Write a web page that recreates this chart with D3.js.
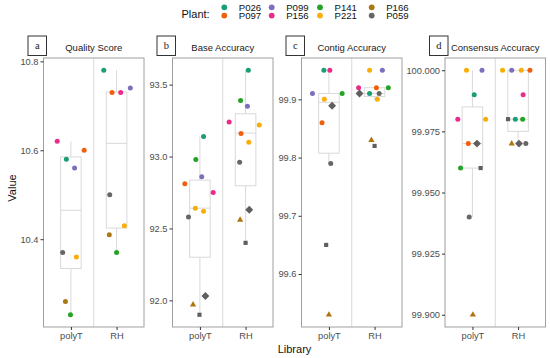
<!DOCTYPE html>
<html>
<head>
<meta charset="utf-8">
<script src="https://cdn.jsdelivr.net/npm/d3@7"></script>
<style>
  body { margin: 0; background: #fff; }
  text { font-family: "Liberation Sans", Arial, sans-serif; }
</style>
</head>
<body>
<svg id="chart" width="550" height="358"></svg>
<script>
// categories
const libraries = ["polyT", "RH"];
const plants = ["P026", "P097", "P099", "P156", "P141", "P221", "P166", "P059"];
const panelLetters = ["a", "b", "c", "d"];
const panelTitles = ["Quality Score", "Base Accuracy", "Contig Accuracy", "Consensus Accuracy"];

// points: [plant, library, value, marker, jitter (category units)]
const qualityPoints = [
  ["P156", "polyT", 10.62, "circle", -0.30], ["P026", "polyT", 10.58, "circle", -0.10],
  ["P097", "polyT", 10.60, "circle", 0.29], ["P099", "polyT", 10.56, "circle", 0.08],
  ["P059", "polyT", 10.37, "circle", -0.18], ["P221", "polyT", 10.36, "circle", 0.12],
  ["P166", "polyT", 10.26, "circle", -0.12], ["P141", "polyT", 10.23, "circle", -0.01],
  ["P026", "RH", 10.78, "circle", -0.28], ["P097", "RH", 10.73, "circle", -0.10],
  ["P156", "RH", 10.73, "circle", 0.09], ["P099", "RH", 10.74, "circle", 0.30],
  ["P059", "RH", 10.50, "circle", -0.15], ["P221", "RH", 10.43, "circle", 0.17],
  ["P166", "RH", 10.41, "circle", -0.16], ["P141", "RH", 10.37, "circle", 0.00]
];
const basePoints = [
  ["P026", "polyT", 93.14, "circle", 0.08], ["P141", "polyT", 92.98, "circle", -0.09],
  ["P099", "polyT", 92.86, "circle", 0.04], ["P097", "polyT", 92.81, "circle", -0.33],
  ["P156", "polyT", 92.75, "circle", 0.29], ["P221", "polyT", 92.64, "circle", -0.10],
  ["P221", "polyT", 92.62, "circle", 0.08], ["P059", "polyT", 92.58, "circle", -0.25],
  ["P059", "polyT", 92.03, "diamond", 0.12], ["P166", "polyT", 91.97, "triangle", -0.15],
  ["P059", "polyT", 91.90, "square", -0.01],
  ["P026", "RH", 93.60, "circle", 0.06], ["P141", "RH", 93.39, "circle", -0.11],
  ["P099", "RH", 93.35, "circle", 0.04], ["P156", "RH", 93.24, "circle", -0.36],
  ["P221", "RH", 93.22, "circle", 0.30], ["P097", "RH", 93.16, "circle", -0.10],
  ["P221", "RH", 93.10, "circle", 0.07], ["P059", "RH", 92.96, "circle", -0.13],
  ["P059", "RH", 92.63, "diamond", 0.08], ["P166", "RH", 92.56, "triangle", -0.12],
  ["P059", "RH", 92.40, "square", 0.00]
];
const contigPoints = [
  ["P026", "polyT", 99.95, "circle", -0.11], ["P156", "polyT", 99.95, "circle", 0.02],
  ["P099", "polyT", 99.91, "circle", -0.36], ["P141", "polyT", 99.91, "circle", 0.29],
  ["P221", "polyT", 99.90, "circle", -0.10], ["P059", "polyT", 99.889, "diamond", 0.07],
  ["P097", "polyT", 99.86, "circle", -0.15], ["P059", "polyT", 99.79, "circle", 0.04],
  ["P059", "polyT", 99.65, "square", -0.06], ["P166", "polyT", 99.53, "triangle", 0.00],
  ["P221", "RH", 99.95, "circle", -0.11], ["P099", "RH", 99.95, "circle", 0.17],
  ["P156", "RH", 99.92, "circle", -0.35], ["P097", "RH", 99.92, "circle", 0.04],
  ["P141", "RH", 99.92, "circle", 0.30], ["P059", "RH", 99.91, "diamond", -0.33],
  ["P026", "RH", 99.91, "circle", -0.11], ["P059", "RH", 99.91, "circle", 0.10],
  ["P221", "RH", 99.90, "circle", 0.06], ["P166", "RH", 99.83, "triangle", -0.07],
  ["P059", "RH", 99.82, "square", 0.00]
];
const consensusPoints = [
  ["P221", "polyT", 100.00, "circle", -0.13], ["P099", "polyT", 100.00, "circle", 0.21],
  ["P026", "polyT", 99.99, "circle", 0.04], ["P156", "polyT", 99.98, "circle", -0.32],
  ["P221", "polyT", 99.98, "circle", 0.29], ["P097", "polyT", 99.97, "circle", -0.09],
  ["P059", "polyT", 99.97, "diamond", 0.10], ["P141", "polyT", 99.96, "circle", -0.26],
  ["P059", "polyT", 99.96, "square", 0.18], ["P059", "polyT", 99.94, "circle", -0.07],
  ["P166", "polyT", 99.90, "triangle", 0.01],
  ["P221", "RH", 100.00, "circle", -0.34], ["P099", "RH", 100.00, "circle", -0.14],
  ["P221", "RH", 100.00, "circle", 0.07], ["P097", "RH", 100.00, "circle", 0.26],
  ["P156", "RH", 99.99, "circle", 0.11], ["P059", "RH", 99.98, "square", -0.22],
  ["P026", "RH", 99.98, "circle", -0.06], ["P141", "RH", 99.98, "circle", 0.10],
  ["P166", "RH", 99.97, "triangle", -0.14], ["P059", "RH", 99.97, "diamond", 0.02],
  ["P059", "RH", 99.97, "circle", 0.17]
];

// box summaries per library: [lower whisker, q1, median, q3, upper whisker]
const qualityBoxes = [[10.229, 10.334, 10.465, 10.585, 10.62], [10.37, 10.425, 10.6155, 10.731, 10.78]];
const baseBoxes = [[91.90, 92.30, 92.641, 92.836, 93.139], [92.405, 92.797, 93.163, 93.2975, 93.601]];
const contigBoxes = [[99.79, 99.8075, 99.895, 99.91, 99.95], [99.90, 99.905, 99.91, 99.92, 99.92]];
const consensusBoxes = [[99.94, 99.96, 99.97, 99.985, 100.00], [99.97, 99.975, 99.98, 100.00, 100.00]];

// tick labels
const qualityTicks = [10.4, 10.6, 10.8];
const baseTicks = [92.0, 92.5, 93.0, 93.5];
const contigTicks = [99.6, 99.7, 99.8, 99.9];
const consensusTicks = [99.900, 99.925, 99.950, 99.975, 100.000];

const panels = [
  { points: qualityPoints, boxes: qualityBoxes, ticks: qualityTicks, fmt: d3.format(".1f") },
  { points: basePoints, boxes: baseBoxes, ticks: baseTicks, fmt: d3.format(".1f") },
  { points: contigPoints, boxes: contigBoxes, ticks: contigTicks, fmt: d3.format(".1f") },
  { points: consensusPoints, boxes: consensusBoxes, ticks: consensusTicks, fmt: d3.format(".3f") }
];

const color = d3.scaleOrdinal()
  .domain(plants)
  .range(["#1b9e77", "#f0600c", "#7a70bd", "#ec2a8a", "#24a424", "#f8ad08", "#ad7716", "#666666"]);

const svg = d3.select("#chart");
const lefts = [43.5, 172.5, 301.5, 445];
const pw = 100.5, plotTop = 58, plotBottom = 327;
const gridCol = "#d9d9d9", borderCol = "#a0a0a0", txtCol = "#4d4d4d";

const symbolType = { diamond: d3.symbolDiamond2, square: d3.symbolSquare2, triangle: d3.symbolTriangle2 };
const symbolSize = { diamond: 40, square: 22, triangle: 28 };

panels.forEach(function (p, i) {
  let x = d3.scaleLinear().domain([0.4, 2.6]).range([lefts[i], lefts[i] + pw]);
  let vals = p.points.map(d => d[2]);
  let lo = d3.min(vals), hi = d3.max(vals), pad = (hi - lo) * 0.05;
  let y = d3.scaleLinear().domain([lo - pad, hi + pad]).range([plotBottom, plotTop]);
  let g = svg.append("g");

  // divider between the two libraries
  g.append("line")
    .attr("x1", x(1.5)).attr("x2", x(1.5))
    .attr("y1", plotTop).attr("y2", plotBottom)
    .attr("stroke", gridCol).attr("stroke-width", 1);

  // box plots
  p.boxes.forEach(function (b, k) {
    let cx = x(k + 1), hw = x(0.625) - x(0.4);
    let bg = g.append("g").attr("stroke", gridCol).attr("stroke-width", 1).attr("fill", "none");
    bg.append("line").attr("x1", cx).attr("x2", cx).attr("y1", y(b[0])).attr("y2", y(b[1]));
    bg.append("line").attr("x1", cx).attr("x2", cx).attr("y1", y(b[3])).attr("y2", y(b[4]));
    bg.append("rect").attr("x", cx - hw).attr("width", hw * 2)
      .attr("y", y(b[3])).attr("height", y(b[1]) - y(b[3]));
    bg.append("line").attr("x1", cx - hw).attr("x2", cx + hw)
      .attr("y1", y(b[2])).attr("y2", y(b[2]));
  });

  // points
  p.points.forEach(function (d) {
    let px = x(libraries.indexOf(d[1]) + 1 + d[4]), py = y(d[2]);
    if (d[3] === "circle") {
      g.append("circle").attr("cx", px).attr("cy", py).attr("r", 2.5).attr("fill", color(d[0]));
    } else {
      g.append("path")
        .attr("d", d3.symbol().type(symbolType[d[3]]).size(symbolSize[d[3]])())
        .attr("transform", "translate(" + px + "," + py + ")")
        .attr("fill", d[3] === "triangle" ? "#b0760e" : "#5f5f5f");
    }
  });

  // panel border
  g.append("rect")
    .attr("x", lefts[i]).attr("y", plotTop).attr("width", pw).attr("height", plotBottom - plotTop)
    .attr("fill", "none").attr("stroke", borderCol).attr("stroke-width", 1);

  // axes
  let ya = g.append("g").attr("transform", "translate(" + lefts[i] + ",0)")
    .call(d3.axisLeft(y).tickValues(p.ticks).tickFormat(p.fmt).tickSize(3).tickPadding(2));
  ya.select(".domain").remove();
  ya.selectAll("line").attr("stroke", "#333");
  ya.selectAll("text").attr("fill", txtCol).style("font-size", "9.3px")
    .style("font-family", "'Liberation Sans', Arial, sans-serif");

  let xa = g.append("g").attr("transform", "translate(0," + plotBottom + ")")
    .call(d3.axisBottom(x).tickValues([1, 2]).tickFormat(v => libraries[v - 1]).tickSize(3).tickPadding(2));
  xa.select(".domain").remove();
  xa.selectAll("line").attr("stroke", "#333");
  xa.selectAll("text").attr("fill", txtCol).style("font-size", "9.3px")
    .style("font-family", "'Liberation Sans', Arial, sans-serif");

  // strip title and letter box
  g.append("text")
    .attr("x", lefts[i] + pw / 2).attr("y", 50.5)
    .attr("text-anchor", "middle").attr("fill", "#1a1a1a").style("font-size", "9.5px")
    .text(panelTitles[i]);
  g.append("rect")
    .attr("x", lefts[i] - 15.5).attr("y", 36).attr("width", 18.5).attr("height", 19.5)
    .attr("fill", "#fff").attr("stroke", "#333").attr("stroke-width", 1);
  g.append("text")
    .attr("x", lefts[i] - 6.25).attr("y", 49)
    .attr("text-anchor", "middle").attr("fill", "#222")
    .style("font-family", "'Liberation Serif', 'DejaVu Serif', serif").style("font-size", "10.5px")
    .text(panelLetters[i]);
});

// axis titles
svg.append("text")
  .attr("x", (lefts[0] + lefts[3] + pw) / 2).attr("y", 352.5)
  .attr("text-anchor", "middle").attr("fill", "#111").style("font-size", "11px")
  .text("Library");
svg.append("text")
  .attr("transform", "translate(16,188) rotate(-90)")
  .attr("text-anchor", "middle").attr("fill", "#111").style("font-size", "11px")
  .text("Value");

// legend
let legend = svg.append("g");
legend.append("text").attr("x", 181.5).attr("y", 18).attr("fill", "#111")
  .style("font-size", "11px").text("Plant:");
const legendCols = [224.3, 271.7, 320, 371.7];
plants.forEach(function (pl, k) {
  let col = Math.floor(k / 2), row = k % 2;
  let cx = legendCols[col], cy = 7.3 + row * 8.3;
  legend.append("circle").attr("cx", cx).attr("cy", cy).attr("r", 2.9).attr("fill", color(pl));
  legend.append("text").attr("x", cx + 14.5).attr("y", cy + 3.4).attr("fill", "#111")
    .style("font-size", "9.6px").text(pl);
});
</script>
</body>
</html>
